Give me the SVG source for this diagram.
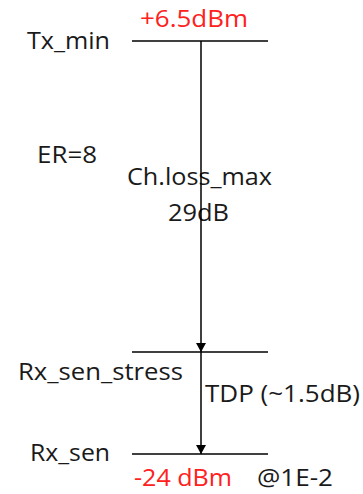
<svg xmlns="http://www.w3.org/2000/svg" width="363" height="494" viewBox="0 0 363 494">
<style>
text{font-family:"Open Sans","Liberation Sans",sans-serif;font-size:24px;fill:#1a1a1a}
.red{fill:#ff2020}
.ln{stroke:#000;stroke-width:1.5;fill:none}
</style>
<defs>
<marker id="ah" viewBox="0 0 10 11" refX="10" refY="5.5" markerWidth="11" markerHeight="10" markerUnits="userSpaceOnUse" orient="auto"><path d="M0,0 L10,5.5 L0,11 z" fill="#000"/></marker>
</defs>
<rect width="363" height="494" fill="#fff"/>
<g id="levels">
<g id="tx"><line class="ln" x1="132" y1="41" x2="268" y2="41"/><text x="27" y="49" textLength="83" lengthAdjust="spacingAndGlyphs">Tx_min</text><text class="red" x="140" y="27" textLength="108" lengthAdjust="spacingAndGlyphs">+6.5dBm</text></g>
<g id="rxstress"><line class="ln" x1="132" y1="352" x2="268" y2="352"/><text x="18" y="380" textLength="165" lengthAdjust="spacingAndGlyphs">Rx_sen_stress</text></g>
<g id="rxsen"><line class="ln" x1="132" y1="454" x2="268" y2="454"/><text x="30" y="461" textLength="80" lengthAdjust="spacingAndGlyphs">Rx_sen</text><text class="red" x="134" y="486" textLength="98" lengthAdjust="spacingAndGlyphs">-24 dBm</text><text x="257" y="486" textLength="76" lengthAdjust="spacingAndGlyphs">@1E-2</text></g>
</g>
<g id="labels">
<text x="37" y="163" textLength="60" lengthAdjust="spacingAndGlyphs">ER=8</text>
<text x="127" y="185" textLength="145" lengthAdjust="spacingAndGlyphs">Ch.loss_max</text>
<text x="168" y="221" textLength="61" lengthAdjust="spacingAndGlyphs">29dB</text>
<text x="205" y="402" textLength="155" lengthAdjust="spacingAndGlyphs">TDP (~1.5dB)</text>
</g>
<g id="connectors">
<line class="ln" x1="201" y1="41" x2="201" y2="352" marker-end="url(#ah)"/>
<line class="ln" x1="201" y1="352" x2="201" y2="454" marker-end="url(#ah)"/>
</g>
</svg>
